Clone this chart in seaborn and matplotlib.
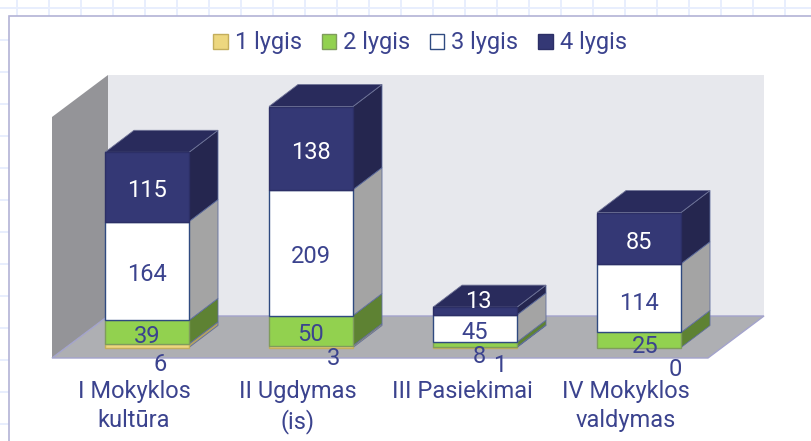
import matplotlib
matplotlib.use('Agg')
import matplotlib.pyplot as plt
from matplotlib.patches import Polygon, Rectangle
import pandas as pd
import seaborn as sns

# data
categories = ['I Mokyklos\nkultūra', 'II Ugdymas\n(is)', 'III Pasiekimai', 'IV Mokyklos\nvaldymas']
levels = ['1 lygis', '2 lygis', '3 lygis', '4 lygis']
lygis_1 = [6, 3, 1, 0]
lygis_2 = [39, 50, 8, 25]
lygis_3 = [164, 209, 45, 114]
lygis_4 = [115, 138, 13, 85]

# colours per level
front_colors = ['#EDD77F', '#92D14F', '#FFFFFF', '#343875']
edge_colors = ['#C4AE5C', '#7F9C5C', '#2F4A80', '#2C2F66']
side_colors = ['#B3A261', '#5E8233', '#A4A4A4', '#25264F']
top_color = '#292B5C'
text_color = '#3B438E'
font_size = 17

# label nudges in pixels (level, category) for the ones sitting off centre
default_nudge = (0, -4)
nudges = {
    (0, 0): (13, -19), (0, 1): (22, -12), (0, 2): (25, -18), (0, 3): (36, -22),
    (1, 0): (0, -4), (1, 1): (0, -4), (1, 2): (4, -12), (1, 3): (6, -7),
    (2, 2): (0, -4), (2, 3): (0, -5), (3, 2): (3, 10),
}

sns.set_theme(style='white')
plt.rcParams['font.family'] = ['Roboto', 'DejaVu Sans']

fig = plt.figure(figsize=(8.11, 4.41), dpi=100)

# page behind the chart: faint slide grid and the white frame
bg = fig.add_axes([0, 0, 1, 1], zorder=-1)
bg.set_xlim(0, 811)
bg.set_ylim(441, 0)
bg.axis('off')
for gx in range(17, 811, 32):
    bg.plot([gx, gx], [0, 441], color='#E8EEFD', lw=1.4)
for gy in range(8, 441, 32):
    bg.plot([0, 811], [gy, gy], color='#E8EEFD', lw=1.4)
bg.add_patch(Rectangle((8.5, 15.5), 810, 430, facecolor='white', edgecolor='#B3B3D6', lw=1.2, zorder=3))

ax = fig.add_axes([52 / 811, (441 - 358) / 441, 656 / 811, 241 / 441])
ax.patch.set_alpha(0)

px_x = 1 / 164
px_y = 400 / 241

# walls and floor
depth_x, depth_y = 56 * px_x, 42 * px_y
ax.add_patch(Polygon([(-0.5 + depth_x, depth_y), (3.5 + depth_x, depth_y), (3.5 + depth_x, 400 + depth_y),
                      (-0.5 + depth_x, 400 + depth_y)], facecolor='#E7E8ED', edgecolor='none', clip_on=False, zorder=0))
ax.add_patch(Polygon([(-0.5, 0), (-0.5 + depth_x, depth_y), (-0.5 + depth_x, 400 + depth_y), (-0.5, 400)],
                     facecolor='#949498', edgecolor='none', clip_on=False, zorder=0))
ax.add_patch(Polygon([(-0.5, 0), (3.5, 0), (3.5 + depth_x, depth_y), (-0.5 + depth_x, depth_y)],
                     facecolor='#AEAFB3', edgecolor='#A3A3CC', lw=1, clip_on=False, zorder=0))

# stacked front faces
series = [lygis_1, lygis_2, lygis_3, lygis_4]
bottoms = [0, 0, 0, 0]
all_bars = []
for i, values in enumerate(series):
    df = pd.DataFrame({'cat': categories, 'value': values})
    before = len(ax.patches)
    sns.barplot(data=df, x='cat', y='value', bottom=bottoms, color=front_colors[i], saturation=1,
                width=84 / 164, edgecolor=edge_colors[i], linewidth=1, label=levels[i], ax=ax, zorder=3)
    all_bars.append(ax.patches[before:])
    bottoms = [b + v for b, v in zip(bottoms, values)]

# bars stand part way back on the floor
shift_x, shift_y = 13 * px_x, 10.5 * px_y
bar_dx, bar_dy = 29 * px_x, 22 * px_y
for i, bars in enumerate(all_bars):
    for j, bar in enumerate(bars):
        bar.set_x(bar.get_x() + shift_x)
        bar.set_y(bar.get_y() + shift_y)
        bar.set_clip_on(False)
        if series[i][j] == 0:
            bar.set_visible(False)
            continue
        x1 = bar.get_x() + bar.get_width()
        y0, y1 = bar.get_y(), bar.get_y() + bar.get_height()
        ax.add_patch(Polygon([(x1, y0), (x1 + bar_dx, y0 + bar_dy), (x1 + bar_dx, y1 + bar_dy), (x1, y1)],
                             facecolor=side_colors[i], edgecolor='#5F6E9E', lw=0.6, clip_on=False, zorder=2))
        if i == 3:
            x0 = bar.get_x()
            ax.add_patch(Polygon([(x0, y1), (x1, y1), (x1 + bar_dx, y1 + bar_dy), (x0 + bar_dx, y1 + bar_dy)],
                                 facecolor=top_color, edgecolor='#6F7396', lw=0.6, clip_on=False, zorder=2))

# value labels
for i, bars in enumerate(all_bars):
    for j, bar in enumerate(bars):
        cx = bar.get_x() + bar.get_width() / 2
        cy = bar.get_y() + bar.get_height() / 2
        color = 'white' if i == 3 else text_color
        ax.annotate(str(series[i][j]), (cx, cy), xytext=nudges.get((i, j), default_nudge), textcoords='offset pixels',
                    ha='center', va='center', fontsize=font_size, color=color, annotation_clip=False, zorder=6)

ax.set_xlim(-0.5, 3.5)
ax.set_ylim(0, 400)
ax.set_xlabel('')
ax.set_ylabel('')
ax.set_yticks([])
ax.tick_params(axis='x', length=0, pad=16, labelsize=font_size, labelcolor=text_color)
for label in ax.get_xticklabels():
    label.set_linespacing(1.3)
sns.despine(ax=ax, left=True, bottom=True)

ax.legend(loc='center', bbox_to_anchor=(420 / 811, 398 / 441), bbox_transform=fig.transFigure, ncol=4,
          frameon=False, fontsize=font_size, labelcolor=text_color, handlelength=0.6, handleheight=0.6,
          handletextpad=0.3, columnspacing=0.85)

fig.savefig('out.png', dpi=100)
